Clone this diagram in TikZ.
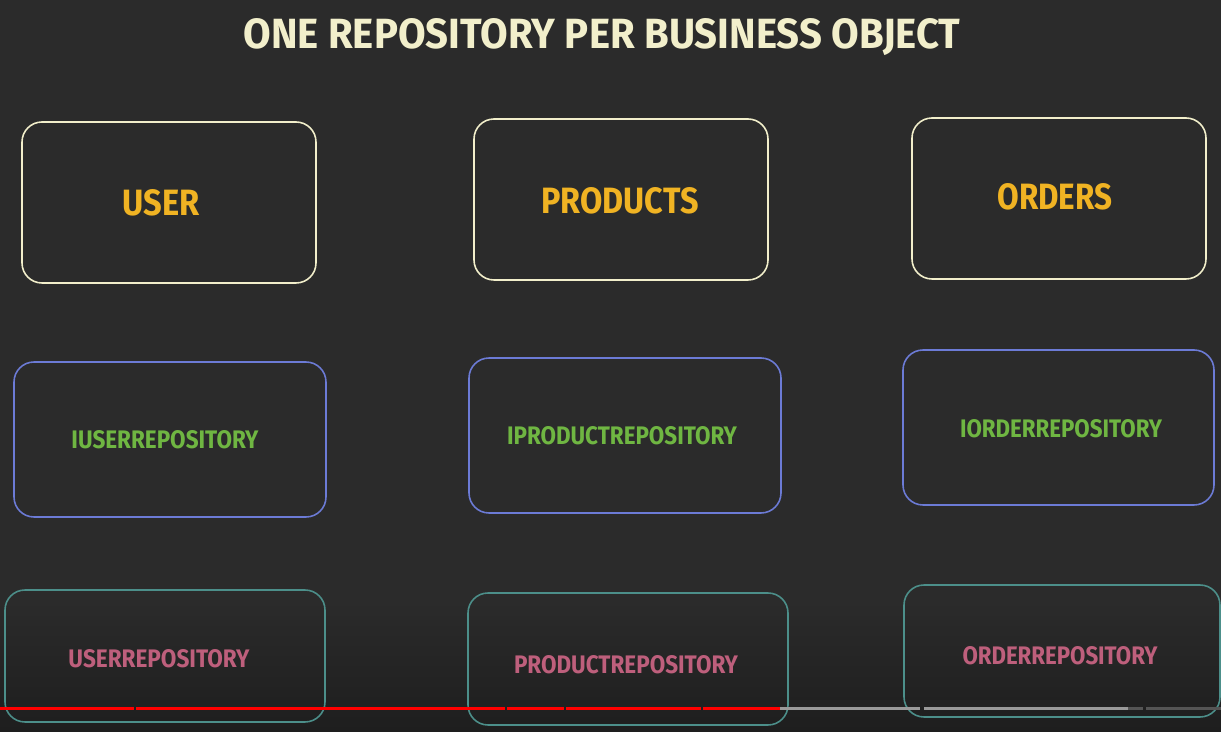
\documentclass[tikz,border=0pt]{standalone}
\usepackage{fontspec}
\setmainfont{Fira Sans}
\usepackage{graphicx}

\newlength{\px}
\setlength{\px}{0.02cm}
% text squeezed to the width and cap height seen on the slide
\newcommand{\fitlabel}[3]{\resizebox{#1\px}{#2\px}{#3}}

\definecolor{bgcol}{HTML}{2B2B2B}
\definecolor{bgdark}{HTML}{1E1E1E}
\definecolor{creamcol}{HTML}{F2EFCB}
\definecolor{orangecol}{HTML}{F0B323}
\definecolor{bluecol}{HTML}{6C7BD6}
\definecolor{greencol}{HTML}{6FB642}
\definecolor{tealcol}{HTML}{4C8F8A}
\definecolor{pinkcol}{HTML}{BE5F7C}
\definecolor{bargray}{HTML}{9A9A9A}
\definecolor{bardark}{HTML}{555555}

\tikzset{
  objbox/.style={draw=creamcol, line width=0.9pt, rounded corners=20\px,
    minimum width=294\px, minimum height=161\px, inner sep=0pt},
  ifacebox/.style={draw=bluecol, line width=0.9pt, rounded corners=20\px,
    minimum width=312\px, minimum height=155\px, inner sep=0pt},
  repobox/.style={draw=tealcol, line width=0.9pt, rounded corners=20\px,
    minimum width=320\px, minimum height=132\px, inner sep=0pt},
  objtext/.style={text=orangecol, font=\bfseries, inner sep=0pt},
  ifacetext/.style={text=greencol, font=\bfseries, inner sep=0pt},
  repotext/.style={text=pinkcol, font=\bfseries, inner sep=0pt},
  bar/.style={line width=3\px}
}

\begin{document}
\begin{tikzpicture}[x=0.02cm, y=-0.02cm]
    % Sfondo
    \fill[bgcol] (0,0) rectangle (1221,732);
    \shade[top color=bgcol, bottom color=bgdark] (0,600) rectangle (1221,732);
    \useasboundingbox (0,0) rectangle (1221,732);

    % Titolo
    \node[text=creamcol, font=\bfseries] (title) at (602,37)
        {\fitlabel{717}{30}{ONE REPOSITORY PER BUSINESS OBJECT}};

    % Oggetti
    \node[objbox] (user) at (169,202.5) {};
    \node[objbox] (products) at (621,199.5) {};
    \node[objbox] (orders) at (1059,198.5) {};
    \node[objtext] (userlbl) at (161,203) {\fitlabel{77}{26}{USER}};
    \node[objtext] (productslbl) at (620,201) {\fitlabel{157}{26}{PRODUCTS}};
    \node[objtext] (orderslbl) at (1055,197) {\fitlabel{115}{26}{ORDERS}};

    % Interfacce
    \node[ifacebox] (iuserrepo) at (170,439.5) {};
    \node[ifacebox] (iproductrepo) at (625,435.5) {};
    \node[ifacebox, minimum width=311\px] (iorderrepo) at (1058.5,427.5) {};
    \node[ifacetext] (iuserlbl) at (165,440) {\fitlabel{187}{18}{IUSERREPOSITORY}};
    \node[ifacetext] (iproductlbl) at (622,436) {\fitlabel{230}{18}{IPRODUCTREPOSITORY}};
    \node[ifacetext] (iorderlbl) at (1061,429) {\fitlabel{202}{18}{IORDERREPOSITORY}};

    % Repository
    \node[repobox] (userrepo) at (165,656) {};
    \node[repobox] (productrepo) at (628,659) {};
    \node[repobox, minimum width=316\px] (orderrepo) at (1062,651) {};
    \node[repotext] (userrepolbl) at (159,659) {\fitlabel{181}{18}{USERREPOSITORY}};
    \node[repotext] (productrepolbl) at (626,665) {\fitlabel{224}{18}{PRODUCTREPOSITORY}};
    \node[repotext] (orderrepolbl) at (1060,656) {\fitlabel{195}{18}{ORDERREPOSITORY}};

    % Barra di avanzamento
    \foreach \a/\b in {0/134, 136/505, 507/564, 566/701, 703/780}
        \draw[bar, red] (\a,708.5) -- (\b,708.5);
    \foreach \a/\b in {780/920, 924/1128}
        \draw[bar, bargray] (\a,708.5) -- (\b,708.5);
    \foreach \a/\b in {1128/1143, 1146/1221}
        \draw[bar, bardark] (\a,708.5) -- (\b,708.5);
\end{tikzpicture}
\end{document}
